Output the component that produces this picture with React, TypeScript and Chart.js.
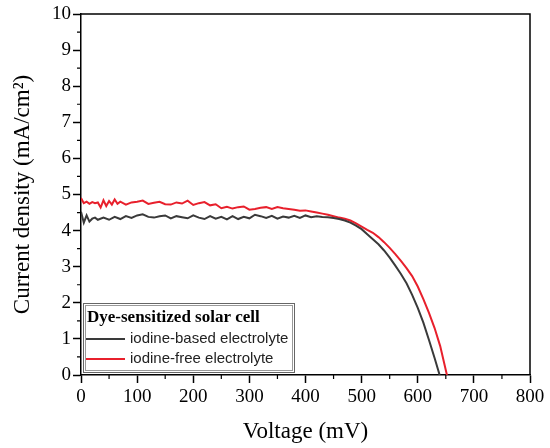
import { useEffect, useRef } from 'react'
import { Chart, registerables } from 'chart.js'

Chart.register(...registerables)

// J-V curves, voltage in mV, current density in mA/cm2
const voltageBased = [0, 5, 10, 15, 20, 25, 30, 40, 50, 60, 70, 80, 90, 100, 110, 120, 130, 140, 150, 160, 170, 180, 190, 200, 210, 220, 230, 240, 250, 260, 270, 280, 290, 300, 310, 320, 330, 340, 350, 360, 370, 380, 390, 400, 410, 420, 430, 440, 450, 460, 470, 480, 490, 500, 510, 520, 530, 540, 550, 560, 570, 580, 590, 600, 610, 620, 630, 639]
const currentBased = [4.52, 4.22, 4.42, 4.25, 4.33, 4.36, 4.30, 4.36, 4.30, 4.38, 4.32, 4.40, 4.35, 4.42, 4.45, 4.38, 4.36, 4.40, 4.42, 4.34, 4.40, 4.37, 4.34, 4.42, 4.36, 4.32, 4.40, 4.33, 4.38, 4.31, 4.40, 4.32, 4.38, 4.34, 4.44, 4.40, 4.35, 4.41, 4.33, 4.39, 4.36, 4.41, 4.35, 4.42, 4.37, 4.40, 4.38, 4.37, 4.35, 4.32, 4.28, 4.22, 4.14, 4.04, 3.90, 3.76, 3.62, 3.45, 3.25, 3.03, 2.80, 2.54, 2.22, 1.86, 1.45, 0.97, 0.47, 0]

const voltageFree = [0, 5, 10, 15, 20, 25, 30, 35, 40, 45, 50, 55, 60, 65, 70, 80, 90, 100, 110, 120, 130, 140, 150, 160, 170, 180, 190, 200, 210, 220, 230, 240, 250, 260, 270, 280, 290, 300, 310, 320, 330, 340, 350, 360, 370, 380, 390, 400, 410, 420, 430, 440, 450, 460, 470, 480, 490, 500, 510, 520, 530, 540, 550, 560, 570, 580, 590, 600, 610, 620, 630, 640, 652]
const currentFree = [4.90, 4.76, 4.80, 4.74, 4.79, 4.76, 4.78, 4.64, 4.84, 4.68, 4.82, 4.72, 4.86, 4.74, 4.80, 4.72, 4.78, 4.80, 4.83, 4.74, 4.77, 4.80, 4.73, 4.72, 4.78, 4.75, 4.83, 4.71, 4.76, 4.79, 4.70, 4.73, 4.62, 4.66, 4.61, 4.65, 4.67, 4.58, 4.60, 4.63, 4.65, 4.60, 4.65, 4.62, 4.60, 4.58, 4.55, 4.56, 4.53, 4.50, 4.47, 4.44, 4.40, 4.36, 4.33, 4.28, 4.20, 4.11, 4.02, 3.94, 3.82, 3.68, 3.52, 3.35, 3.16, 2.96, 2.74, 2.45, 2.10, 1.72, 1.30, 0.80, 0]

const seriesLabels = ['iodine-based electrolyte', 'iodine-free electrolyte']
const legendTitle = 'Dye-sensitized solar cell'
const xTitle = 'Voltage (mV)'
const yTitle = 'Current density (mA/cm²)'

const SERIF = '"Liberation Serif", "Times New Roman", serif'
const SANS = '"Liberation Sans", Arial, sans-serif'

// top/right frame, minor ticks and the boxed legend in the lower left
const extrasPlugin = {
  id: 'extras',
  afterDraw(chart: any) {
    const { ctx, chartArea, scales } = chart
    const { left, right, top, bottom } = chartArea
    ctx.save()
    ctx.strokeStyle = '#000'
    ctx.lineWidth = 1.5
    ctx.beginPath()
    ctx.moveTo(left, top)
    ctx.lineTo(right, top)
    ctx.lineTo(right, bottom)
    ctx.stroke()

    ctx.lineWidth = 1.2
    ctx.beginPath()
    for (let v = 50; v < 800; v += 100) {
      const px = scales.x.getPixelForValue(v)
      ctx.moveTo(px, bottom)
      ctx.lineTo(px, bottom + 4)
    }
    for (let v = 0.5; v < 10; v += 1) {
      const py = scales.y.getPixelForValue(v)
      ctx.moveTo(left, py)
      ctx.lineTo(left - 4, py)
    }
    ctx.stroke()

    // legend box
    const bx = left + 2
    const by = bottom - 72
    const bw = 212
    const bh = 70
    ctx.fillStyle = '#fff'
    ctx.fillRect(bx, by, bw, bh)
    ctx.lineWidth = 1
    ctx.strokeStyle = '#666'
    ctx.strokeRect(bx + 0.5, by + 0.5, bw - 1, bh - 1)
    ctx.strokeStyle = '#999'
    ctx.strokeRect(bx + 2.5, by + 2.5, bw - 5, bh - 5)

    ctx.fillStyle = '#000'
    ctx.textBaseline = 'middle'
    ctx.textAlign = 'left'
    ctx.font = `bold 17px ${SERIF}`
    ctx.fillText(legendTitle, bx + 4, by + 15)

    ctx.font = `15px ${SANS}`
    chart.data.datasets.forEach((ds: any, i: number) => {
      const ly = by + 36 + i * 20
      ctx.strokeStyle = ds.borderColor
      ctx.lineWidth = 2
      ctx.beginPath()
      ctx.moveTo(bx + 3, ly)
      ctx.lineTo(bx + 42, ly)
      ctx.stroke()
      ctx.fillStyle = '#222'
      ctx.fillText(ds.label, bx + 47, ly)
    })
    ctx.restore()
  },
}

export default function App() {
  const canvasRef = useRef<HTMLCanvasElement>(null)
  const chartRef = useRef<Chart | null>(null)

  useEffect(() => {
    if (!canvasRef.current) return
    const ctx = canvasRef.current.getContext('2d')
    if (!ctx) return

    if (chartRef.current) chartRef.current.destroy()

    chartRef.current = new Chart(ctx, {
      type: 'line',
      data: {
        datasets: [
          {
            label: seriesLabels[0],
            data: voltageBased.map((v, i) => ({ x: v, y: currentBased[i] })),
            borderColor: '#3a3a3a',
            borderWidth: 2,
            pointRadius: 0,
            tension: 0,
          },
          {
            label: seriesLabels[1],
            data: voltageFree.map((v, i) => ({ x: v, y: currentFree[i] })),
            borderColor: '#e8202c',
            borderWidth: 2,
            pointRadius: 0,
            tension: 0,
          },
        ],
      },
      options: {
        animation: false,
        responsive: true,
        maintainAspectRatio: false,
        layout: { padding: { top: 14, right: 20, left: 0, bottom: 0 } },
        plugins: { legend: { display: false }, tooltip: { enabled: false } },
        scales: {
          x: {
            type: 'linear',
            min: 0,
            max: 800,
            ticks: { stepSize: 100, color: '#000', font: { family: SERIF, size: 19 }, padding: 3 },
            grid: { drawOnChartArea: false, tickLength: 8, tickColor: '#000', tickWidth: 1.5 },
            border: { color: '#000', width: 1.5 },
            title: { display: true, text: xTitle, color: '#000', font: { family: SERIF, size: 23 }, padding: { top: 0, bottom: 2 } },
            afterFit: (scale: any) => { scale.height = 73 },
          },
          y: {
            type: 'linear',
            min: 0,
            max: 10,
            ticks: { stepSize: 1, color: '#000', font: { family: SERIF, size: 19 }, padding: 2 },
            grid: { drawOnChartArea: false, tickLength: 8, tickColor: '#000', tickWidth: 1.5 },
            border: { color: '#000', width: 1.5 },
            title: { display: true, text: yTitle, color: '#000', font: { family: SERIF, size: 23 }, padding: { top: 9, bottom: 0 } },
            afterFit: (scale: any) => { scale.width = 81 },
          },
        },
      },
      plugins: [extrasPlugin],
    })

    return () => {
      if (chartRef.current) {
        chartRef.current.destroy()
        chartRef.current = null
      }
    }
  }, [])

  return (
    <div style={{ position: 'fixed', left: 0, top: 0, width: 550, height: 448, background: '#fff' }}>
      <canvas ref={canvasRef} />
    </div>
  )
}
